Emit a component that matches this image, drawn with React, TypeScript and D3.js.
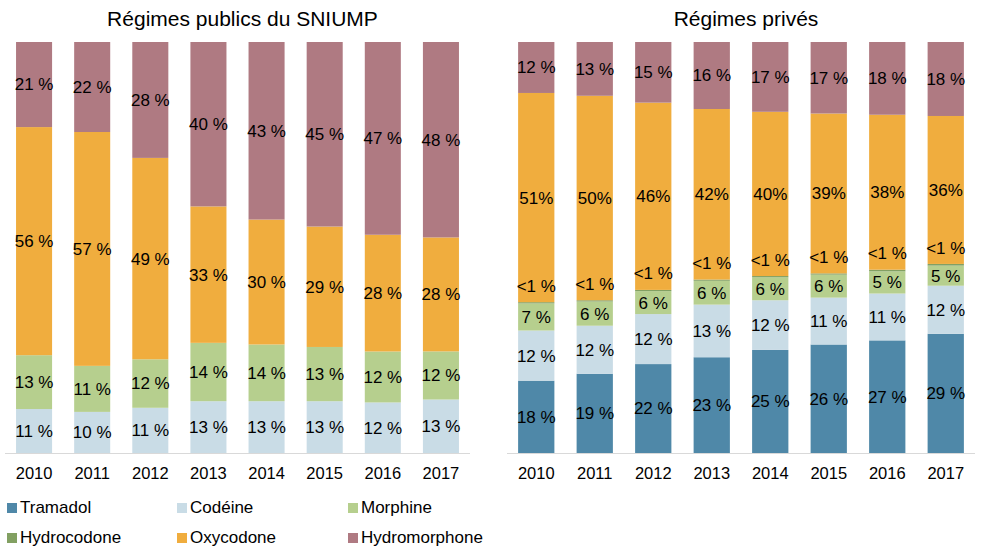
import React from "react";
import * as d3 from "d3";

const years = ["2010", "2011", "2012", "2013", "2014", "2015", "2016", "2017"];
const seriesNames = ["Tramadol", "Codéine", "Morphine", "Hydrocodone", "Oxycodone", "Hydromorphone"];
const seriesColors = ["#4F88A8", "#C9DCE6", "#B6CF8E", "#82A062", "#F0AD3E", "#AF7A82"];

// Régimes publics du SNIUMP (%)
const pubTramadol = [0, 0, 0, 0, 0, 0, 0, 0];
const pubCodeine = [10.7, 10.0, 11.0, 12.6, 12.6, 12.6, 12.3, 13.0];
const pubMorphine = [13.1, 11.2, 11.8, 14.2, 13.8, 13.2, 12.4, 11.7];
const pubHydrocodone = [0, 0, 0, 0, 0, 0, 0, 0];
const pubOxycodone = [55.5, 56.9, 49.0, 33.2, 30.4, 29.3, 28.4, 27.7];
const pubHydromorphone = [20.7, 21.9, 28.2, 40.0, 43.2, 44.9, 46.9, 47.5];

// Régimes privés (%)
const privTramadol = [17.6, 19.3, 21.7, 23.3, 25.1, 26.4, 27.4, 29.0];
const privCodeine = [12.2, 11.7, 12.2, 12.8, 12.1, 11.4, 11.4, 11.7];
const privMorphine = [6.6, 5.9, 5.6, 5.8, 5.6, 5.6, 5.4, 4.9];
const privHydrocodone = [0.3, 0.3, 0.3, 0.3, 0.3, 0.3, 0.4, 0.4];
const privOxycodone = [50.9, 49.8, 45.7, 41.5, 40.0, 38.9, 37.7, 36.0];
const privHydromorphone = [12.4, 13.1, 14.8, 16.3, 17.0, 17.4, 17.7, 18.0];

const panelTitles = ["Régimes publics du SNIUMP", "Régimes privés"];

const FONT = "'Liberation Sans', Arial, sans-serif";

type Panel = {
  title: string;
  values: number[][];
  range: [number, number];
  titleX: number;
  compactSeries: string | null;
};

const panels: Panel[] = [
  {
    title: panelTitles[0],
    values: [pubTramadol, pubCodeine, pubMorphine, pubHydrocodone, pubOxycodone, pubHydromorphone],
    range: [5, 470],
    titleX: 242.5,
    compactSeries: null,
  },
  {
    title: panelTitles[1],
    values: [privTramadol, privCodeine, privMorphine, privHydrocodone, privOxycodone, privHydromorphone],
    range: [507, 975],
    titleX: 746,
    compactSeries: "Oxycodone",
  },
];

const fmt = (v: number, compact: boolean) => {
  if (v < 1) return "<1 %";
  return Math.round(v) + (compact ? "%" : " %");
};

function PanelChart({ panel }: { panel: Panel }) {
  const x = d3.scaleBand<string>().domain(years).range(panel.range).paddingInner(0.38).paddingOuter(0.19);
  const y = d3.scaleLinear().domain([0, 1]).range([453, 42]);
  const rows = years.map((yr, i) => {
    const r: any = { year: yr };
    seriesNames.forEach((s, k) => (r[s] = panel.values[k][i]));
    return r;
  });
  const stack = d3.stack<any>().keys(seriesNames).offset(d3.stackOffsetExpand);
  const layers = stack(rows);
  return (
    <g>
      <text x={panel.titleX} y={26} textAnchor="middle" fontSize={21} fontFamily={FONT} fill="#000">
        {panel.title}
      </text>
      {layers.map((layer, k) => (
        <g key={layer.key}>
          {layer.map((d, i) => {
            const raw = panel.values[k][i];
            if (raw <= 0) return null;
            return (
              <rect
                key={i}
                x={x(years[i])}
                width={x.bandwidth()}
                y={y(d[1])}
                height={Math.max(0, y(d[0]) - y(d[1]))}
                fill={seriesColors[k]}
              />
            );
          })}
        </g>
      ))}
      {layers.map((layer, k) => (
        <g key={"l" + layer.key}>
          {layer.map((d, i) => {
            const raw = panel.values[k][i];
            if (raw <= 0) return null;
            const cy = (y(d[0]) + y(d[1])) / 2 - (raw < 1 ? 17 : 0);
            return (
              <text
                key={i}
                x={(x(years[i]) as number) + x.bandwidth() / 2}
                y={cy}
                dy="0.35em"
                textAnchor="middle"
                fontSize={17}
                fontFamily={FONT}
                fill="#000"
              >
                {fmt(raw, panel.compactSeries === layer.key)}
              </text>
            );
          })}
        </g>
      ))}
      <line x1={panel.range[0]} x2={panel.range[1]} y1={453.5} y2={453.5} stroke="#D9D9D9" strokeWidth={1} />
      {years.map((yr) => (
        <text
          key={yr}
          x={(x(yr) as number) + x.bandwidth() / 2}
          y={479}
          textAnchor="middle"
          fontSize={16.5}
          fontFamily={FONT}
          fill="#000"
        >
          {yr}
        </text>
      ))}
    </g>
  );
}

const legendCols = [7, 177, 348];
const legendRows = [503, 533];

export default function App() {
  return (
    <svg
      width={984}
      height={554}
      style={{ position: "absolute", left: 0, top: 0, background: "#fff" }}
    >
      <rect width={984} height={554} fill="#fff" />
      {panels.map((p, i) => (
        <PanelChart key={i} panel={p} />
      ))}
      {seriesNames.map((s, k) => {
        const cx = legendCols[k % 3];
        const ry = legendRows[Math.floor(k / 3)];
        return (
          <g key={s}>
            <rect x={cx} y={ry} width={10} height={10} fill={seriesColors[k]} />
            <text x={cx + 13} y={ry + 10} fontSize={17} fontFamily={FONT} fill="#000">
              {s}
            </text>
          </g>
        );
      })}
    </svg>
  );
}
